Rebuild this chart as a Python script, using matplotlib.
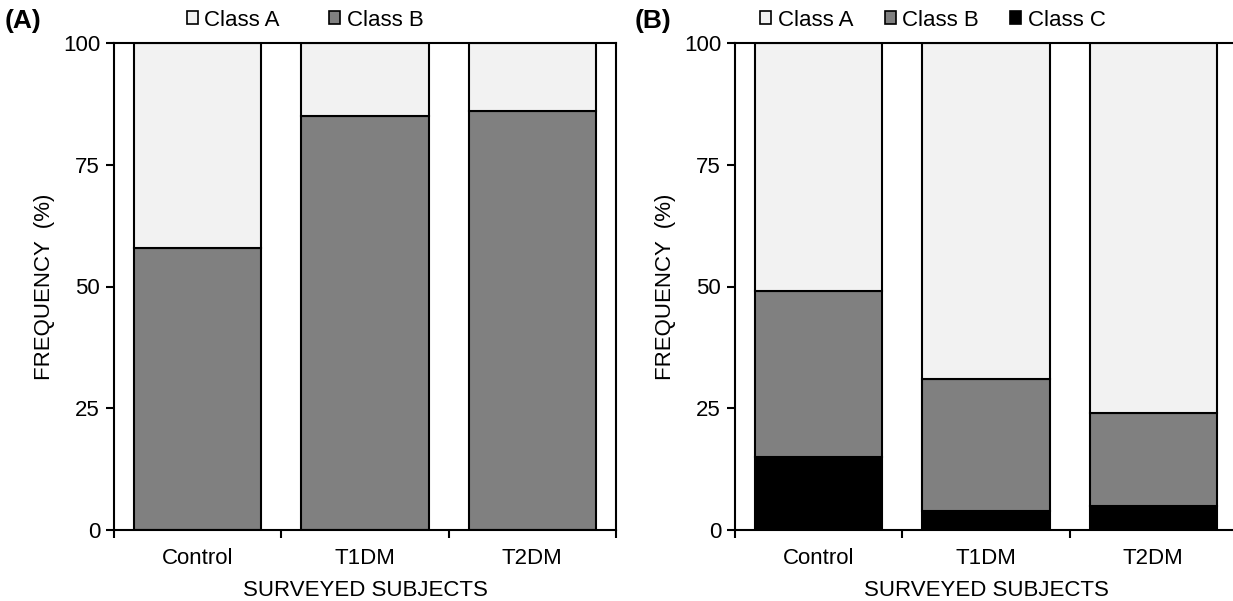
import matplotlib
matplotlib.use("Agg")
import matplotlib.pyplot as plt
from matplotlib.patches import Patch
import numpy as np

plt.rcParams['font.family'] = ['Liberation Sans', 'DejaVu Sans']

categories = ["Control", "T1DM", "T2DM"]
# Panel A
a_classB = [58, 85, 86]
a_classA = [42, 15, 14]
# Panel B
b_classC = [15, 4, 5]
b_classB = [34, 27, 19]
b_classA = [51, 69, 76]
yticks = [0, 25, 50, 75, 100]

colA = "#F2F2F2"
colB = "#808080"
colC = "#000000"

fig = plt.figure(figsize=(12.33, 6.01), dpi=100)
W, H = 1233, 601
axA = fig.add_axes([114 / W, 1 - 530 / H, 502 / W, 487 / H])
axB = fig.add_axes([735 / W, 1 - 530 / H, 502 / W, 487 / H])

x = np.arange(len(categories))
bw = 0.76
fs = 16

def style(ax):
    ax.set_xlim(-0.5, 2.5)
    ax.set_ylim(0, 100)
    ax.set_yticks(yticks)
    ax.set_xticks(x)
    ax.set_xticklabels(categories, fontsize=fs)
    ax.set_xticks([-0.5, 0.5, 1.5, 2.5], minor=True)
    ax.tick_params(axis='x', which='major', length=0, pad=13)
    ax.tick_params(axis='x', which='minor', length=6, width=1.5, direction='out')
    ax.tick_params(axis='y', length=6, width=1.5, direction='out', labelsize=fs, pad=4)
    for s in ax.spines.values():
        s.set_linewidth(1.5)
    ax.set_ylabel("FREQUENCY  (%)", fontsize=fs, labelpad=6)
    ax.set_xlabel("SURVEYED SUBJECTS", fontsize=fs, labelpad=8)

kw = dict(width=bw, edgecolor='black', linewidth=1.5)
axA.bar(x, a_classB, color=colB, **kw)
axA.bar(x, a_classA, bottom=a_classB, color=colA, **kw)
style(axA)

b_bottomA = [c + b for c, b in zip(b_classC, b_classB)]
axB.bar(x, b_classC, color=colC, **kw)
axB.bar(x, b_classB, bottom=b_classC, color=colB, **kw)
axB.bar(x, b_classA, bottom=b_bottomA, color=colA, **kw)
style(axB)

def handle(c):
    return Patch(facecolor=c, edgecolor='black', linewidth=1.2)

fig.legend([handle(colA), handle(colB)], ["Class A", "Class B"], loc='center',
           bbox_to_anchor=(305 / W, 1 - 20 / H), ncol=2, frameon=False, fontsize=fs,
           handlelength=0.5, handleheight=0.5, handletextpad=0.3, columnspacing=2.2,
           borderpad=0, borderaxespad=0)
fig.legend([handle(colA), handle(colB), handle(colC)], ["Class A", "Class B", "Class C"],
           loc='center', bbox_to_anchor=(933 / W, 1 - 20 / H), ncol=3, frameon=False,
           fontsize=fs, handlelength=0.5, handleheight=0.5, handletextpad=0.3,
           columnspacing=1.4, borderpad=0, borderaxespad=0)

fig.text(5 / W, 1 - 21 / H, "(A)", fontsize=19, fontweight='bold', va='center', ha='left')
fig.text(635 / W, 1 - 21 / H, "(B)", fontsize=19, fontweight='bold', va='center', ha='left')

fig.savefig("out.png", dpi=100)
